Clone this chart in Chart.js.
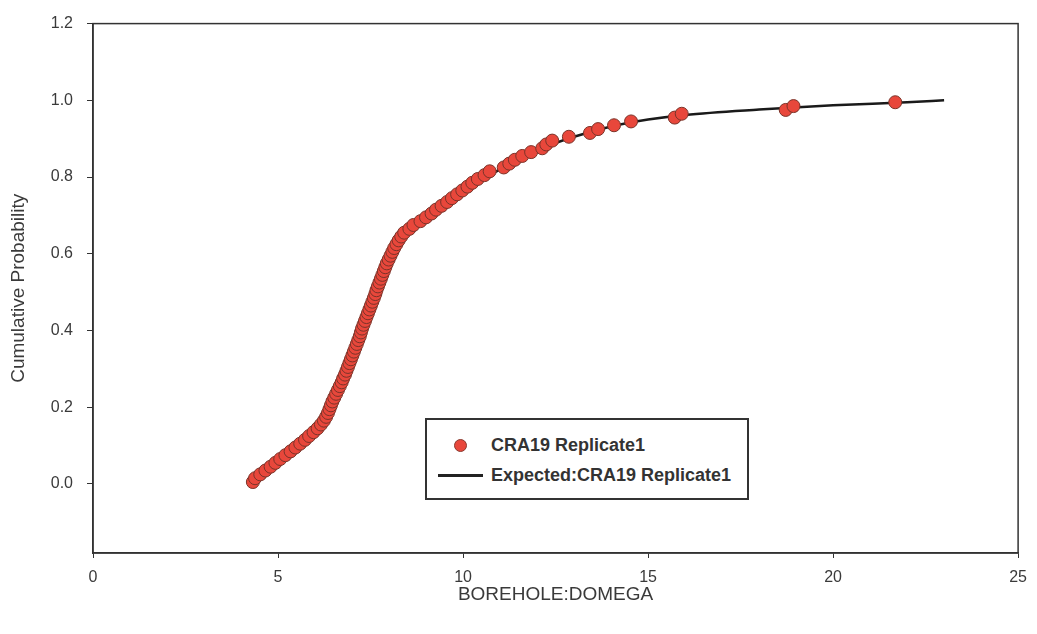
<!DOCTYPE html>
<html lang="en">
<head>
<meta charset="UTF-8" />
<title>Cumulative Probability - BOREHOLE:DOMEGA</title>
<script src="https://cdn.jsdelivr.net/npm/chart.js"></script>
<style>
  body { margin: 0; background: #fff; }
  #wrap { position: relative; width: 1037px; height: 634px; }
  #legend {
    position: absolute; left: 425px; top: 418px; width: 324px; height: 82px;
    border: 2px solid #333; box-sizing: border-box; background: #fff;
    font: bold 18px "Liberation Sans", Arial, sans-serif; color: #333;
  }
  .row { position: absolute; left: 0; height: 22px; line-height: 22px; }
  .row span { position: absolute; left: 64px; white-space: nowrap; }
  .dot { position: absolute; left: 27px; top: 5px; width: 11px; height: 11px; border-radius: 50%;
         background: #e8473b; border: 1px solid #8a3a30; }
  .ln { position: absolute; left: 11px; top: 10px; width: 45px; height: 3px; background: #222; }
</style>
</head>
<body>
<div id="wrap">
  <canvas id="cdfChart" width="1037" height="634"></canvas>
  <div id="legend">
    <div class="row" style="top:14px"><i class="dot"></i><span>CRA19 Replicate1</span></div>
    <div class="row" style="top:44px"><i class="ln"></i><span>Expected:CRA19 Replicate1</span></div>
  </div>
</div>
<script>
  // sampled values (BOREHOLE:DOMEGA) and their plotting positions
  const sampleX = [
    4.32, 4.38, 4.52, 4.66, 4.80, 4.93, 5.06, 5.20, 5.34, 5.47,
    5.60, 5.73, 5.84, 5.96, 6.07, 6.16, 6.24, 6.30, 6.35, 6.39,
    6.43, 6.47, 6.52, 6.57, 6.62, 6.67, 6.72, 6.76, 6.81, 6.85,
    6.89, 6.93, 6.97, 7.01, 7.05, 7.09, 7.13, 7.17, 7.21, 7.24,
    7.27, 7.31, 7.35, 7.39, 7.43, 7.47, 7.51, 7.55, 7.59, 7.63,
    7.66, 7.70, 7.74, 7.78, 7.82, 7.86, 7.90, 7.94, 7.99, 8.04,
    8.09, 8.14, 8.20, 8.26, 8.33, 8.41, 8.55, 8.66, 8.85, 9.00,
    9.15, 9.27, 9.42, 9.57, 9.70, 9.84, 9.98, 10.12, 10.25, 10.40,
    10.58, 10.72, 11.10, 11.25, 11.40, 11.60, 11.84, 12.14, 12.25, 12.41,
    12.86, 13.43, 13.65, 14.08, 14.54, 15.72, 15.91, 18.72, 18.93, 21.68
  ];
  const sampleY = [
    0.005, 0.015, 0.025, 0.035, 0.045, 0.055, 0.065, 0.075, 0.085, 0.095,
    0.105, 0.115, 0.125, 0.135, 0.145, 0.155, 0.165, 0.175, 0.185, 0.195,
    0.205, 0.215, 0.225, 0.235, 0.245, 0.255, 0.265, 0.275, 0.285, 0.295,
    0.305, 0.315, 0.325, 0.335, 0.345, 0.355, 0.365, 0.375, 0.385, 0.395,
    0.405, 0.415, 0.425, 0.435, 0.445, 0.455, 0.465, 0.475, 0.485, 0.495,
    0.505, 0.515, 0.525, 0.535, 0.545, 0.555, 0.565, 0.575, 0.585, 0.595,
    0.605, 0.615, 0.625, 0.635, 0.645, 0.655, 0.665, 0.675, 0.685, 0.695,
    0.705, 0.715, 0.725, 0.735, 0.745, 0.755, 0.765, 0.775, 0.785, 0.795,
    0.805, 0.815, 0.825, 0.835, 0.845, 0.855, 0.865, 0.875, 0.885, 0.895,
    0.905, 0.915, 0.925, 0.935, 0.945, 0.955, 0.965, 0.975, 0.985, 0.995
  ];

  // expected distribution curve
  const expectedX = [4.3, 5.0, 6.0, 6.45, 7.0, 7.5, 8.0, 8.4, 9.0, 10.0, 11.0, 12.0, 13.0, 14.0, 15.0, 16.0, 18.0, 20.0, 22.0, 23.0];
  const expectedY = [0.0, 0.06, 0.13, 0.21, 0.32, 0.455, 0.58, 0.655, 0.695, 0.765, 0.82, 0.87, 0.905, 0.932, 0.95, 0.962, 0.976, 0.987, 0.995, 1.0];

  const xTicks = [0, 5, 10, 15, 20, 25];
  const yTicks = [0.0, 0.2, 0.4, 0.6, 0.8, 1.0, 1.2];

  const frame = {
    id: "frame",
    afterDraw(chart) {
      const { ctx, chartArea: a } = chart;
      ctx.save();
      ctx.strokeStyle = "#333";
      ctx.lineWidth = 1.5;
      ctx.strokeRect(a.left, a.top, a.right - a.left, a.bottom - a.top);
      ctx.restore();
    },
  };

  const fontFam = '"Liberation Sans", Arial, sans-serif';

  new Chart(document.getElementById("cdfChart"), {
    type: "scatter",
    data: {
      datasets: [
        {
          label: "CRA19 Replicate1",
          data: sampleX.map((x, i) => ({ x: x, y: sampleY[i] })),
          pointRadius: 6.5,
          pointBackgroundColor: "#e8473b",
          pointBorderColor: "#7a3329",
          pointBorderWidth: 1,
          order: 0,
        },
        {
          label: "Expected:CRA19 Replicate1",
          data: expectedX.map((x, i) => ({ x: x, y: expectedY[i] })),
          showLine: true,
          borderColor: "#1a1a1a",
          borderWidth: 2.5,
          pointRadius: 0,
          cubicInterpolationMode: "monotone",
          order: 1,
        },
      ],
    },
    options: {
      responsive: false,
      animation: false,
      layout: { padding: { left: 0, right: 14, top: 20, bottom: 0 } },
      plugins: { legend: { display: false }, tooltip: { enabled: false } },
      scales: {
        x: {
          type: "linear",
          min: 0,
          max: 25,
          afterBuildTicks: (s) => { s.ticks = xTicks.map((v) => ({ value: v })); },
          afterFit: (s) => { s.height = 81; },
          grid: { drawOnChartArea: false, tickLength: 5, color: "#333" },
          border: { color: "#333", width: 1.5 },
          ticks: { color: "#3a3a3a", padding: 10, font: { family: fontFam, size: 16 } },
          title: {
            display: true,
            text: "BOREHOLE:DOMEGA",
            color: "#3a3a3a",
            font: { family: fontFam, size: 19 },
            padding: { top: 0, bottom: 28 },
          },
        },
        y: {
          type: "linear",
          min: -0.18,
          max: 1.2,
          afterBuildTicks: (s) => { s.ticks = yTicks.map((v) => ({ value: v })); },
          afterFit: (s) => { s.width = 93; },
          grid: { drawOnChartArea: false, tickLength: 6, color: "#333" },
          border: { color: "#333", width: 1.5 },
          ticks: {
            color: "#3a3a3a",
            padding: 14,
            font: { family: fontFam, size: 16 },
            callback: (v) => v.toFixed(1),
          },
          title: {
            display: true,
            text: "Cumulative Probability",
            color: "#3a3a3a",
            font: { family: fontFam, size: 19 },
            padding: { top: 7, bottom: 0 },
          },
        },
      },
    },
    plugins: [frame],
  });
</script>
</body>
</html>
